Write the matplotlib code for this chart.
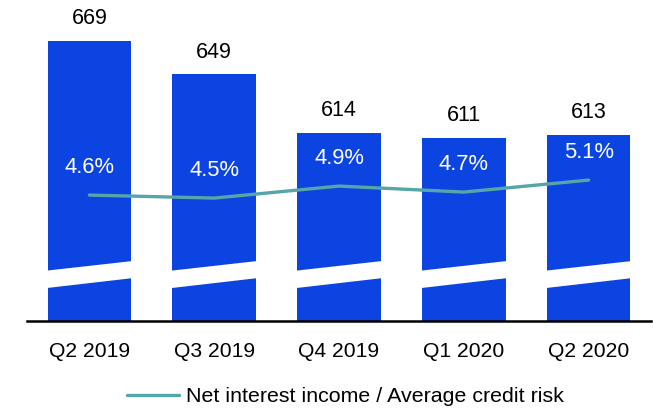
import matplotlib
matplotlib.use("Agg")
import matplotlib.pyplot as plt
import matplotlib.transforms as mtransforms
from matplotlib.patches import Polygon

plt.rcParams["font.family"] = ["Liberation Sans", "DejaVu Sans"]

# ---------------------------------------------------------
# DATA
# ---------------------------------------------------------
quarters = ["Q2 2019", "Q3 2019", "Q4 2019", "Q1 2020", "Q2 2020"]
net_interest_income = [669, 649, 614, 611, 613]
nii_ratio = [4.6, 4.5, 4.9, 4.7, 5.1]
ratio_labels = ["4.6%", "4.5%", "4.9%", "4.7%", "5.1%"]

BAR_COLOR = "#0B44E0"
LINE_COLOR = "#55A5AA"

fig = plt.figure(figsize=(6.53, 4.09), dpi=100)
ax = fig.add_axes([0.0413, 0.215, 0.9557, 0.7606])

x = range(len(quarters))
bw = 0.67
ax.bar(x, net_interest_income, width=bw, color=BAR_COLOR, zorder=2)
ax.set_ylim(501.6, 687.5)
ax.set_xlim(-0.5, len(quarters) - 0.5)

# value labels above bars
for i, v in enumerate(net_interest_income):
    ax.annotate(str(v), (i, v), xytext=(0, 16), textcoords="offset points",
                ha="center", va="center", fontsize=15.5, color="black")

# axis break (white slanted band through each bar)
trans = mtransforms.blended_transform_factory(ax.transData, ax.transAxes)
for i in x:
    l, r = i - bw / 2 - 0.01, i + bw / 2 + 0.01
    band = Polygon([(l, 0.106), (r, 0.138), (r, 0.193), (l, 0.162)],
                   closed=True, facecolor="white", edgecolor="none",
                   transform=trans, zorder=3)
    ax.add_patch(band)

# styling
for s in ["top", "right", "left"]:
    ax.spines[s].set_visible(False)
ax.spines["bottom"].set_linewidth(1.8)
ax.spines["bottom"].set_color("black")
ax.set_yticks([])
ax.set_xticks(list(x))
ax.set_xticklabels(quarters, fontsize=15.2)
ax.tick_params(axis="x", length=0, pad=15)

# ratio line on secondary axis
ax2 = ax.twinx()
ax2.set_ylim(0.4, 10.77)
ax2.plot(list(x), nii_ratio, color=LINE_COLOR, lw=2.4, zorder=4,
         solid_capstyle="round", label="Net interest income / Average credit risk")
for i, (v, lab) in enumerate(zip(nii_ratio, ratio_labels)):
    ax2.annotate(lab, (i, v), xytext=(0, 20), textcoords="offset points",
                 ha="center", va="center", fontsize=15.8, color="white")
ax2.axis("off")

fig.legend(loc="center", bbox_to_anchor=(0.529, 0.03), frameon=False,
           fontsize=15.4, handlelength=2.45, handletextpad=0.3)

fig.savefig("out.png", dpi=100)
